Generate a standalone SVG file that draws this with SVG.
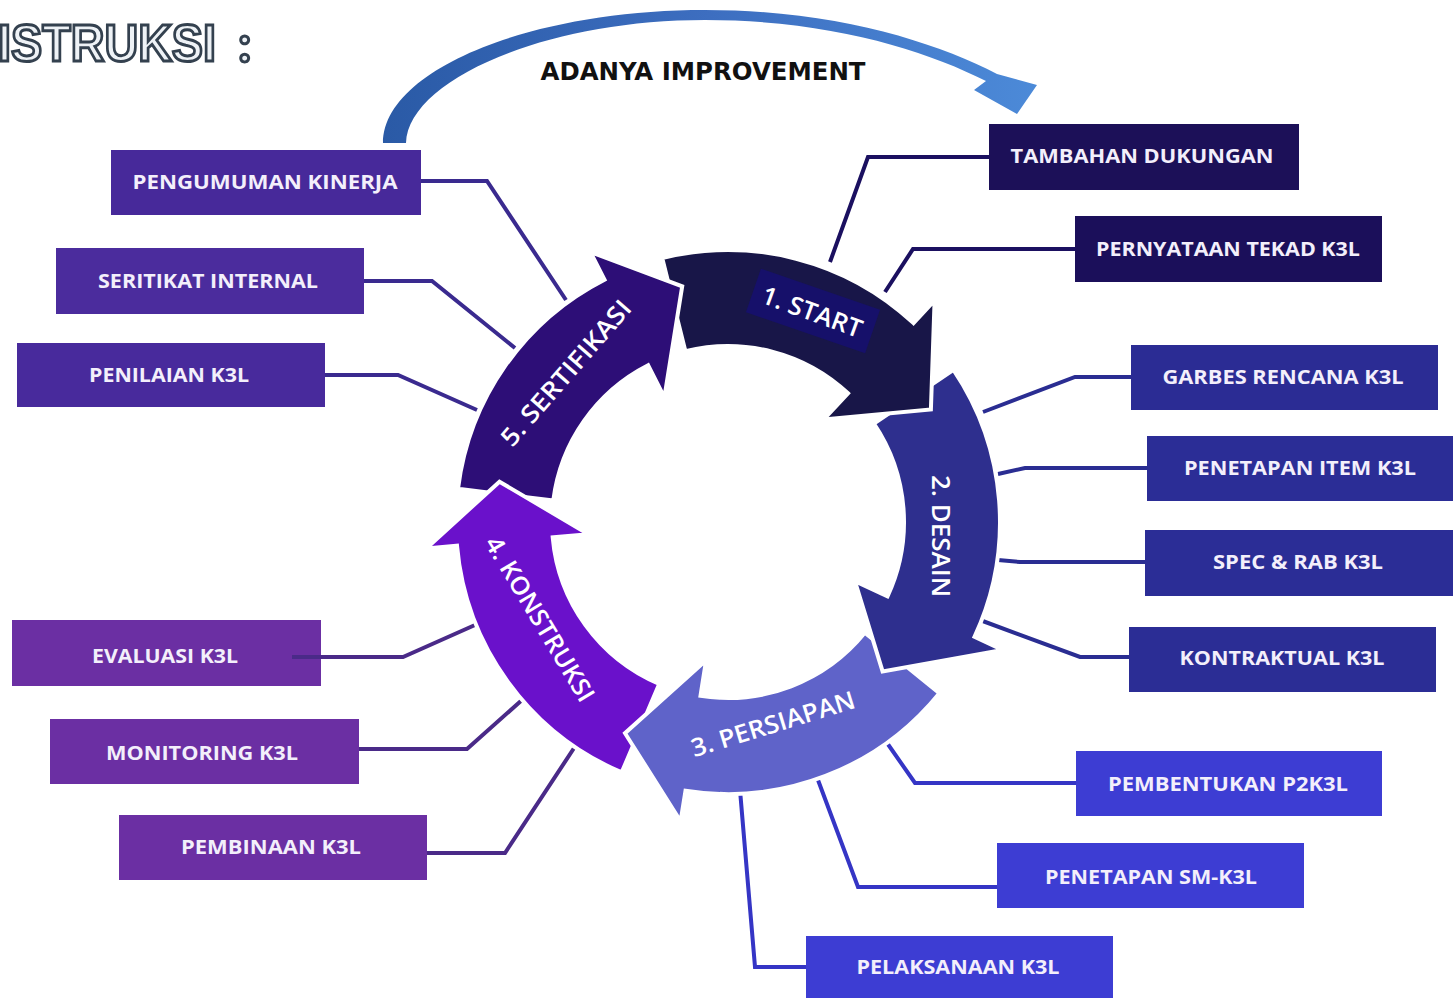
<svg xmlns="http://www.w3.org/2000/svg" xmlns:xlink="http://www.w3.org/1999/xlink" width="1453" height="998" viewBox="0 0 1453 998">
<style>
.box text{font-family:"Open Sans","Liberation Sans",sans-serif;font-weight:700;font-size:19px;fill:#f3effb;text-anchor:middle}
.conn polyline{fill:none;stroke-width:4;stroke-linejoin:miter}
.ring path{stroke:#ffffff;stroke-width:4;stroke-linejoin:miter}
.rt{font-family:"Open Sans","Liberation Sans",sans-serif;font-weight:600;font-size:25px;fill:#ffffff;text-anchor:middle}
</style>
<defs>
<linearGradient id="gArc" x1="0" y1="0" x2="1" y2="0">
<stop offset="0" stop-color="#2a5aa6"/>
<stop offset="0.5" stop-color="#3d6ec0"/>
<stop offset="1" stop-color="#4c8ad8"/>
</linearGradient>
<clipPath id="clipPK"><rect x="560" y="640" width="160" height="200"/></clipPath>
</defs>
<rect width="1453" height="998" fill="#ffffff"/>

<g id="title">
<text x="-2" y="61" font-family="Liberation Sans, Arial, sans-serif" font-weight="700" font-size="52" textLength="218" lengthAdjust="spacingAndGlyphs" fill="#eef2f6" stroke="#34414f" stroke-width="3">ISTRUKSI</text>
<text x="238" y="62" font-family="Lato, sans-serif" font-weight="700" font-size="52" fill="#eef2f6" stroke="#34414f" stroke-width="3">:</text>
</g>

<g id="improvement">
<path d="M383,143 C383,70 530,10 705,10 C835,10 935,42 997,74 L1037,85 L1017,114 L974,90 L986,81 C925,50 830,20 705,20 C545,20 408,80 406,143 Z" fill="url(#gArc)"/>
<text x="703" y="80" font-family="DejaVu Sans, sans-serif" font-weight="700" font-size="25" textLength="325" lengthAdjust="spacingAndGlyphs" fill="#111111" text-anchor="middle">ADANYA IMPROVEMENT</text>
</g>

<g id="connectors" class="conn">
<polyline points="421,181 487,181 566,300" stroke="#3a2a8f"/>
<polyline points="364,281 432,281 515,348" stroke="#3a2a8f"/>
<polyline points="325,375 398,375 477,410" stroke="#3a2a8f"/>
<polyline points="989,157 868,157 830,262" stroke="#1b1060"/>
<polyline points="1075,249 913,249 885,292" stroke="#1b1060"/>
<polyline points="1131,377 1075,377 983,412" stroke="#2a2d92"/>
<polyline points="1147,468 1025,468 998,474" stroke="#2a2d92"/>
<polyline points="1145,562 1020,562 998,560" stroke="#2a2d92"/>
<polyline points="1129,657 1080,657 980,620" stroke="#2a2d92"/>
<polyline points="1076,783 915,783 885,740" stroke="#3535c5"/>
<polyline points="997,887 858,887 815,772" stroke="#3535c5"/>
<polyline points="806,967 755,967 740,790" stroke="#3535c5"/>
<polyline points="292,657 403,657 475,625" stroke="#4a2a88"/>
<polyline points="358,749 467,749 522,700" stroke="#4a2a88"/>
<polyline points="427,853 505,853 578,742" stroke="#4a2a88"/>
</g>

<g class="ring">
<g id="arrow-persiapan">
<path id="pP" d="M939.4,693.2 A272,272 0 0 1 685.5,790.7 L680.6,821.3 L625,733.2 L706.1,660.3 L700.5,695.8 A176,176 0 0 0 864.8,632.8 Z" fill="#5f63c9"/>
</g>
<g id="arrow-desain">
<path d="M953.5,369.9 A272,272 0 0 1 974.5,636.9 L1002.6,650 L882.6,671.4 L854.9,581.2 L887.5,596.4 A176,176 0 0 0 873.9,423.6 Z" fill="#2e2f8e"/>
</g>
<g id="arrow-start">
<path d="M662.2,258.1 A272,272 0 0 1 913.5,323.1 L934.6,300.4 L930.9,409.5 L823.5,419.6 L848,393.3 A176,176 0 0 0 685.4,351.2 Z" fill="#181648"/>
<rect x="750" y="288" width="126" height="46" fill="#16106a" transform="rotate(19 813 311)"/>
</g>
<g id="arrow-sertifikasi">
<path d="M458,488.8 A272,272 0 0 1 604.5,279.6 L590.4,252 L682.2,286.4 L664.4,397.3 L648.1,365.2 A176,176 0 0 0 553.3,500.5 Z" fill="#2d0e77"/>
</g>
<g id="arrow-konstruksi">
<path d="M621.7,772.4 A272,272 0 0 1 457,545.7 L426.2,548.4 L499.5,481.7 L588.5,534.2 L552.7,537.3 A176,176 0 0 0 659.2,684 Z" fill="#6a11cb"/>
</g>
<use xlink:href="#pP" href="#pP" clip-path="url(#clipPK)"/>
</g>

<g id="ring-labels">
<text class="rt" x="0" y="0" dy="0.35em" textLength="105" lengthAdjust="spacingAndGlyphs" transform="translate(812 312) rotate(20)">1. START</text>
<text class="rt" x="0" y="0" dy="0.35em" textLength="122" lengthAdjust="spacingAndGlyphs" transform="translate(941 536) rotate(90)">2. DESAIN</text>
<text class="rt" x="0" y="0" dy="0.35em" textLength="170" lengthAdjust="spacingAndGlyphs" transform="translate(773 724) rotate(-17)">3. PERSIAPAN</text>
<text class="rt" x="0" y="0" dy="0.35em" textLength="188" lengthAdjust="spacingAndGlyphs" transform="translate(540 619) rotate(59)">4. KONSTRUKSI</text>
<text class="rt" x="0" y="0" dy="0.35em" textLength="184" lengthAdjust="spacingAndGlyphs" transform="translate(566 373) rotate(-49)">5. SERTIFIKASI</text>
</g>

<g id="n-pengumuman" class="box"><rect x="111" y="150" width="310" height="65" fill="#47299a"/><text x="265" y="189" textLength="265" lengthAdjust="spacingAndGlyphs">PENGUMUMAN KINERJA</text></g>
<g id="n-seritikat" class="box"><rect x="56" y="248" width="308" height="66" fill="#4b2c9d"/><text x="208" y="288" textLength="220" lengthAdjust="spacingAndGlyphs">SERITIKAT INTERNAL</text></g>
<g id="n-penilaian" class="box"><rect x="17" y="343" width="308" height="64" fill="#482a9c"/><text x="169" y="382" textLength="160" lengthAdjust="spacingAndGlyphs">PENILAIAN K3L</text></g>
<g id="n-tambahan" class="box"><rect x="989" y="124" width="310" height="66" fill="#1c1058"/><text x="1142" y="163" textLength="263" lengthAdjust="spacingAndGlyphs">TAMBAHAN DUKUNGAN</text></g>
<g id="n-pernyataan" class="box"><rect x="1075" y="216" width="307" height="66" fill="#1b0f5a"/><text x="1228" y="256" textLength="264" lengthAdjust="spacingAndGlyphs">PERNYATAAN TEKAD K3L</text></g>
<g id="n-garbes" class="box"><rect x="1131" y="345" width="307" height="65" fill="#2b2c94"/><text x="1283" y="384" textLength="241" lengthAdjust="spacingAndGlyphs">GARBES RENCANA K3L</text></g>
<g id="n-penetapan-item" class="box"><rect x="1147" y="436" width="306" height="65" fill="#2b2d96"/><text x="1300" y="475" textLength="232" lengthAdjust="spacingAndGlyphs">PENETAPAN ITEM K3L</text></g>
<g id="n-spec" class="box"><rect x="1145" y="530" width="308" height="66" fill="#2b2d96"/><text x="1298" y="569" textLength="170" lengthAdjust="spacingAndGlyphs">SPEC &amp; RAB K3L</text></g>
<g id="n-kontraktual" class="box"><rect x="1129" y="627" width="307" height="65" fill="#2b2d95"/><text x="1282" y="665" textLength="205" lengthAdjust="spacingAndGlyphs">KONTRAKTUAL K3L</text></g>
<g id="n-pembentukan" class="box"><rect x="1076" y="751" width="306" height="65" fill="#3d3dd3"/><text x="1228" y="791" textLength="240" lengthAdjust="spacingAndGlyphs">PEMBENTUKAN P2K3L</text></g>
<g id="n-penetapan-sm" class="box"><rect x="997" y="843" width="307" height="65" fill="#3d3dd3"/><text x="1151" y="884" textLength="212" lengthAdjust="spacingAndGlyphs">PENETAPAN SM-K3L</text></g>
<g id="n-pelaksanaan" class="box"><rect x="806" y="936" width="307" height="62" fill="#3d3dd3"/><text x="958" y="974" textLength="203" lengthAdjust="spacingAndGlyphs">PELAKSANAAN K3L</text></g>
<g id="n-evaluasi" class="box"><rect x="12" y="620" width="309" height="66" fill="#6b2fa3"/><text x="165" y="663" textLength="146" lengthAdjust="spacingAndGlyphs">EVALUASI K3L</text><polyline points="292,657 321,657" fill="none" stroke="#4a2a88" stroke-width="4"/></g>
<g id="n-monitoring" class="box"><rect x="50" y="719" width="309" height="65" fill="#6b2fa3"/><text x="202" y="760" textLength="192" lengthAdjust="spacingAndGlyphs">MONITORING K3L</text></g>
<g id="n-pembinaan" class="box"><rect x="119" y="815" width="308" height="65" fill="#6b2fa3"/><text x="271" y="854" textLength="180" lengthAdjust="spacingAndGlyphs">PEMBINAAN K3L</text></g>
</svg>
